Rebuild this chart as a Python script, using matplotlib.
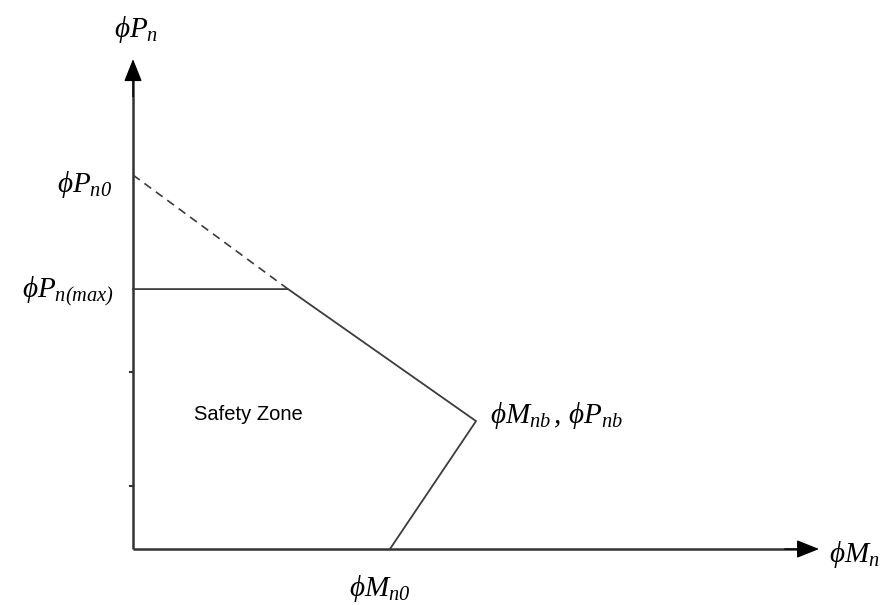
import matplotlib.pyplot as plt

plt.rcParams['mathtext.fontset'] = 'custom'
plt.rcParams['mathtext.rm'] = 'Liberation Serif:italic'
plt.rcParams['mathtext.it'] = 'Liberation Serif:italic'

# normalised interaction diagram (M / Mnb, P / Pn0)
m_max, p_max = 0.452, 0.695     # cut-off at phi Pn(max)
m_nb, p_nb = 1.0, 0.342         # balance point
m_n0 = 0.749                    # pure bending
p_n0 = 1.0                      # pure axial (theoretical)
y_ticks = [0.473, 0.168]
x_end, y_end = 2.0, 1.31

line_c = '#3c3c3c'
axis_c = '#333333'

fig = plt.figure(figsize=(8.88, 6.05), dpi=100)
ax = fig.add_axes([0, 0, 1, 1])
ax.set_xlim(-0.3878, 2.201)
ax.set_ylim(-0.1497, 1.468)
ax.axis('off')

# axes with arrows
arrow = dict(arrowstyle='-|>,head_length=0.7,head_width=0.28', color='black',
             lw=1, shrinkA=0, shrinkB=0, mutation_scale=20)
ax.annotate('', xy=(x_end, 0), xytext=(x_end - 0.1, 0), arrowprops=arrow)
ax.annotate('', xy=(0, y_end), xytext=(0, y_end - 0.1), arrowprops=arrow)
ax.plot([0, 0], [0, y_end - 0.04], color=axis_c, lw=1.8, solid_capstyle='butt')
ax.plot([0, x_end - 0.04], [0, 0], color=axis_c, lw=1.8, solid_capstyle='butt')
for yt in y_ticks:
    ax.plot([-0.008, 0], [yt, yt], color=axis_c, lw=1.5)

# dashed extension to phi Pn0
ax.plot([0, m_max], [p_n0, p_max], color=line_c, lw=1.2, ls=(0, (5, 3.5)))
# design envelope
ax.plot([0, m_max, m_nb, m_n0], [p_max, p_max, p_nb, 0], color=line_c, lw=1.3)

ts = 21
ax.text(-0.055, 1.39, r'$\phi P_n$', fontsize=ts, ha='left', va='center')
ax.text(-0.06, p_n0 - 0.025, r'$\phi P_{n0}$', fontsize=ts, ha='right', va='center')
ax.text(-0.055, p_max - 0.005, r'$\phi P_{n(max)}$', fontsize=ts, ha='right', va='center')
ax.text(m_nb + 0.04, p_nb + 0.015, r'$\phi M_{nb}\,,\,\phi P_{nb}$', fontsize=ts,
        ha='left', va='center')
ax.text(x_end + 0.03, -0.015, r'$\phi M_n$', fontsize=ts, ha='left', va='center')
ax.text(m_n0 - 0.12, -0.105, r'$\phi M_{n0}$', fontsize=ts, ha='left', va='center')
ax.text(0.335, 0.36, 'Safety Zone', fontsize=14.5, family='Liberation Sans',
        ha='center', va='center')

fig.savefig('out.png', dpi=100)
